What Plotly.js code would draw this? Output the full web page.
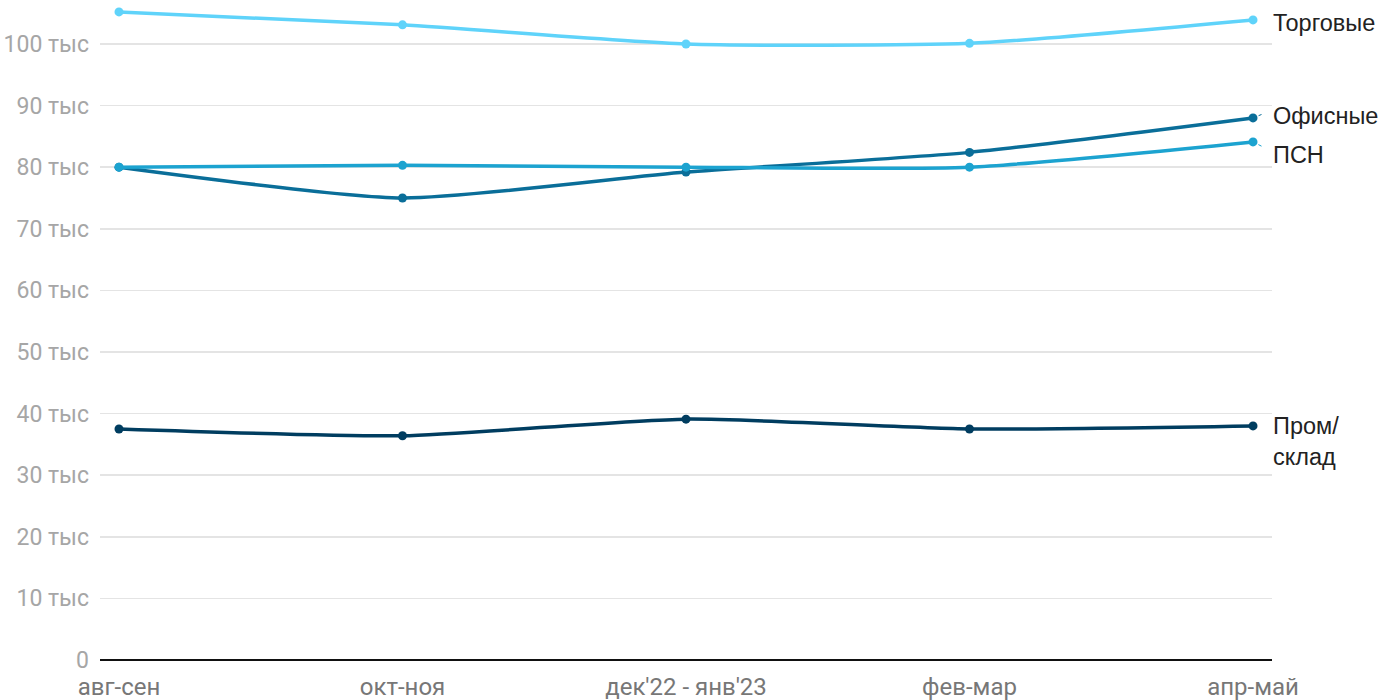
<!DOCTYPE html>
<html>
<head>
<meta charset="utf-8">
<script src="https://cdn.plot.ly/plotly-3.0.1.min.js"></script>
<style>html,body{margin:0;padding:0;background:#fff;}#chart{width:1400px;height:700px;}</style>
</head>
<body>
<div id="chart"></div>
<script>
const categories = ["авг-сен", "окт-ноя", "дек'22 - янв'23", "фев-мар", "апр-май"];
const torgovye = [105200, 103100, 100000, 100100, 103900];
const ofisnye = [80000, 75000, 79200, 82400, 88000];
const psn = [80000, 80300, 80000, 80000, 84100];
const promsklad = [37500, 36400, 39100, 37500, 38000];
const yTickVals = [0, 10000, 20000, 30000, 40000, 50000, 60000, 70000, 80000, 90000, 100000];
const yTickText = ["0", "10 тыс", "20 тыс", "30 тыс", "40 тыс", "50 тыс", "60 тыс", "70 тыс", "80 тыс", "90 тыс", "100 тыс"];

const seriesNames = ["Торговые", "Офисные", "ПСН", "Пром/<br>склад"];
const seriesData = [torgovye, ofisnye, psn, promsklad];
const colors = ["#5fd3fa", "#0a6e99", "#1ca3d0", "#003d60"];

const xIdx = categories.map((c, i) => i);
const traces = seriesData.map((d, i) => ({
  x: xIdx, y: d, type: 'scatter', mode: 'lines+markers',
  line: {color: colors[i], width: 3.5, shape: 'spline', smoothing: 0.6},
  marker: {color: colors[i], size: 9},
  cliponaxis: false, hoverinfo: 'skip', showlegend: false
}));

const last = categories.length - 1;
const labelFont = {family: '"Liberation Sans", Arial, sans-serif', size: 23.5, color: '#222'};
const annotations = [
  {x: last, y: torgovye[last], text: seriesNames[0], xanchor: 'left', yanchor: 'middle', xshift: 18, yshift: -3, showarrow: false},
  {x: last, y: ofisnye[last], text: seriesNames[1], xanchor: 'left', yanchor: 'middle', xshift: 18, yshift: 2, showarrow: false},
  {x: last, y: psn[last], text: seriesNames[2], xanchor: 'left', yanchor: 'middle', xshift: 18, yshift: -13, showarrow: false},
  {x: last, y: promsklad[last], text: seriesNames[3], xanchor: 'left', yanchor: 'top', xshift: 18, yshift: 15, showarrow: false, align: 'left'},
  {x: last, y: ofisnye[last], text: '', showarrow: true, arrowhead: 0, arrowwidth: 1, arrowcolor: colors[1], ax: 10, ay: -4, standoff: 6},
  {x: last, y: psn[last], text: '', showarrow: true, arrowhead: 0, arrowwidth: 1, arrowcolor: colors[2], ax: 10, ay: 5, standoff: 6}
].map(a => Object.assign({xref: 'x', yref: 'y', font: labelFont}, a));

const layout = {
  width: 1400, height: 700,
  margin: {l: 100, r: 128, t: 7, b: 40},
  paper_bgcolor: '#fff', plot_bgcolor: '#fff',
  font: {family: 'Roboto, sans-serif'},
  xaxis: {
    range: [-0.067, 4.067], tickvals: xIdx, ticktext: categories,
    showgrid: false, zeroline: false, showline: false, ticks: '',
    ticklabelstandoff: 10,
    tickfont: {size: 24, color: '#777'}, fixedrange: true
  },
  yaxis: {
    range: [0, 106000], tickvals: yTickVals, ticktext: yTickText,
    showgrid: true, gridcolor: '#e4e4e4', gridwidth: 1.5,
    zeroline: true, zerolinecolor: '#111', zerolinewidth: 2,
    showline: false, ticks: '', ticklabelstandoff: 10,
    tickfont: {size: 23, color: '#a6a6a6'}, fixedrange: true
  },
  annotations: annotations
};

Plotly.newPlot('chart', traces, layout, {displayModeBar: false, staticPlot: true});
</script>
</body>
</html>
